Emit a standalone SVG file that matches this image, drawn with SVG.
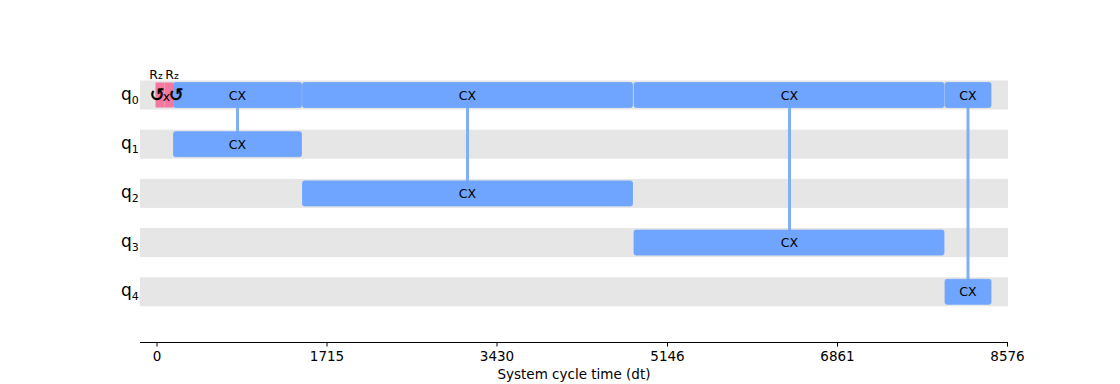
<svg xmlns="http://www.w3.org/2000/svg" width="1120" height="384" viewBox="0 0 1120 384">
<style>
.band{fill:#e6e6e6}
.cx{fill:#6fa4ff;stroke:#6fa4ff;stroke-width:0.8}
.rz{fill:#f5789f}
.lnk{stroke:#7fb0f4;stroke-width:3;fill:none}
.gl{font-family:"DejaVu Sans",sans-serif;font-size:12.5px;fill:#000;text-anchor:middle;dominant-baseline:central}
.sym{font-family:"DejaVu Sans",sans-serif;fill:#000;text-anchor:middle;font-weight:bold}
.ql{font-family:"DejaVu Sans",sans-serif;font-size:17px;fill:#000}
.qs{font-size:11px}
.tk{font-family:"DejaVu Sans",sans-serif;font-size:13.5px;fill:#000;text-anchor:middle}
.ax{stroke:#000;stroke-width:1}
</style>
<rect width="1120" height="384" fill="#fff"/>
<g id="bands">
<rect class="band" x="140" y="80.5" width="868" height="29"/>
<rect class="band" x="140" y="129.7" width="868" height="29"/>
<rect class="band" x="140" y="178.9" width="868" height="29"/>
<rect class="band" x="140" y="228.1" width="868" height="29"/>
<rect class="band" x="140" y="277.3" width="868" height="29"/>
</g>
<g id="labels">
<text class="ql" x="121" y="100">q<tspan class="qs" dy="4">0</tspan></text>
<text class="ql" x="121" y="149">q<tspan class="qs" dy="4">1</tspan></text>
<text class="ql" x="121" y="198">q<tspan class="qs" dy="4">2</tspan></text>
<text class="ql" x="121" y="247">q<tspan class="qs" dy="4">3</tspan></text>
<text class="ql" x="121" y="296">q<tspan class="qs" dy="4">4</tspan></text>
</g>
<g id="connectors">
<line class="lnk" x1="237.5" y1="95" x2="237.5" y2="144.2"/>
<line class="lnk" x1="467.5" y1="95" x2="467.5" y2="193.4"/>
<line class="lnk" x1="789.5" y1="95" x2="789.5" y2="242.6"/>
<line class="lnk" x1="968" y1="95" x2="968" y2="291.8"/>
</g>
<g id="rz0">
<rect class="rz" x="155.5" y="82.5" width="9" height="25"/>
<text class="gl" x="156" y="74" font-size="12">R<tspan font-size="9" dy="2">z</tspan></text>
</g>
<g id="rz1">
<rect class="rz" x="164.5" y="82.5" width="9" height="25"/>
<text class="gl" x="172" y="74" font-size="12">R<tspan font-size="9" dy="2">z</tspan></text>
</g>
<g id="cx_q0_q1">
<rect class="cx" x="173.5" y="82.5" width="128" height="25" rx="2"/>
<text class="gl" x="237.5" y="95">CX</text>
<rect class="cx" x="173.5" y="131.7" width="128" height="25" rx="2"/>
<text class="gl" x="237.5" y="144.2">CX</text>
</g>
<g id="cx_q0_q2">
<rect class="cx" x="302.5" y="82.5" width="330" height="25" rx="2"/>
<text class="gl" x="467.5" y="95">CX</text>
<rect class="cx" x="302.5" y="180.9" width="330" height="25" rx="2"/>
<text class="gl" x="467.5" y="193.4">CX</text>
</g>
<g id="cx_q0_q3">
<rect class="cx" x="634" y="82.5" width="310" height="25" rx="2"/>
<text class="gl" x="789.5" y="95">CX</text>
<rect class="cx" x="634" y="230.1" width="310" height="25" rx="2"/>
<text class="gl" x="789.5" y="242.6">CX</text>
</g>
<g id="cx_q0_q4">
<rect class="cx" x="945" y="82.5" width="46" height="25" rx="2"/>
<text class="gl" x="968" y="95">CX</text>
<rect class="cx" x="945" y="279.3" width="46" height="25" rx="2"/>
<text class="gl" x="968" y="291.8">CX</text>
</g>
<g id="rzsym">
<text class="sym" x="157" y="100.5" font-size="18">↺</text>
<text class="gl" x="166.5" y="96" font-size="14">x</text>
<text class="sym" x="176" y="100.5" font-size="18">↺</text>
</g>
<g id="axis">
<line class="ax" x1="140" y1="342.5" x2="1008" y2="342.5"/>
<line class="ax" x1="157" y1="342.5" x2="157" y2="346.5"/>
<line class="ax" x1="327" y1="342.5" x2="327" y2="346.5"/>
<line class="ax" x1="497" y1="342.5" x2="497" y2="346.5"/>
<line class="ax" x1="667.5" y1="342.5" x2="667.5" y2="346.5"/>
<line class="ax" x1="837.5" y1="342.5" x2="837.5" y2="346.5"/>
<line class="ax" x1="1007.5" y1="342.5" x2="1007.5" y2="346.5"/>
<text class="tk" x="157" y="361">0</text>
<text class="tk" x="327" y="361">1715</text>
<text class="tk" x="497" y="361">3430</text>
<text class="tk" x="667.5" y="361">5146</text>
<text class="tk" x="837.5" y="361">6861</text>
<text class="tk" x="1007.5" y="361">8576</text>
<text class="tk" x="574" y="379">System cycle time (dt)</text>
</g>
</svg>
